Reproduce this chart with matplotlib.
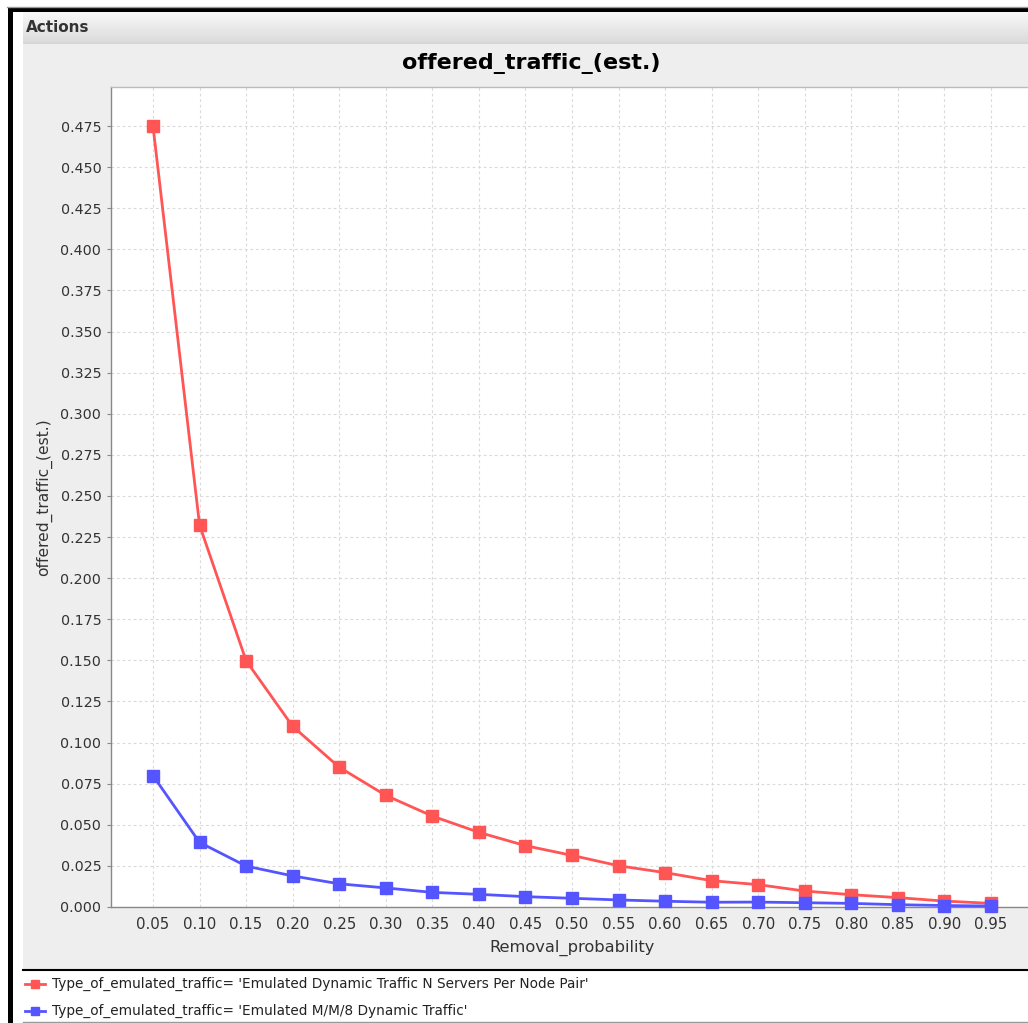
import numpy as np
import matplotlib
matplotlib.use("Agg")
import matplotlib.pyplot as plt
from matplotlib.patches import Rectangle

# ---- data ----
removal_probability = ["0.05", "0.10", "0.15", "0.20", "0.25", "0.30", "0.35", "0.40",
                       "0.45", "0.50", "0.55", "0.60", "0.65", "0.70", "0.75", "0.80",
                       "0.85", "0.90", "0.95"]
n_servers_traffic = [0.475, 0.2323, 0.1498, 0.1099, 0.0850, 0.0679, 0.0553, 0.0454,
                     0.0373, 0.0314, 0.0251, 0.0209, 0.0160, 0.0136, 0.0097, 0.0075,
                     0.0057, 0.0036, 0.0022]
mm8_traffic = [0.0799, 0.0393, 0.0249, 0.0189, 0.0141, 0.0116, 0.0089, 0.0077,
               0.0063, 0.0053, 0.0043, 0.0035, 0.0029, 0.0030, 0.0026, 0.0022,
               0.0014, 0.0009, 0.0006]
y_ticks = [i * 0.025 for i in range(20)]
series_names = ["Type_of_emulated_traffic= 'Emulated Dynamic Traffic N Servers Per Node Pair'",
                "Type_of_emulated_traffic= 'Emulated M/M/8 Dynamic Traffic'"]
series_colors = ["#FF5555", "#5555FF"]

W, H = 1028, 1023
fig = plt.figure(figsize=(W / 100, H / 100), dpi=100)
fig.patch.set_facecolor("white")

# ---- window frame drawn in pixel coordinates ----
frame = fig.add_axes([0, 0, 1, 1], zorder=0)
frame.set_xlim(0, W)
frame.set_ylim(H, 0)
frame.axis("off")

frame.add_patch(Rectangle((0, 0), W, H, color="white", lw=0))
frame.plot([7, W], [6.5, 6.5], color="#9a9a9a", lw=1)
frame.add_patch(Rectangle((8, 8), W - 8, 4, color="black", lw=0))
frame.add_patch(Rectangle((8, 8), 5, H - 8, color="black", lw=0))

# "Actions" header with gradient
grad = np.linspace(0.975, 0.86, 64).reshape(-1, 1)
frame.imshow(grad, extent=(23, W, 42, 12), cmap="gray", vmin=0, vmax=1,
             aspect="auto", interpolation="bilinear", zorder=1)
frame.add_patch(Rectangle((23, 42), W - 23, 2, color="#d6d6d6", lw=0, zorder=2))
frame.text(26, 27, "Actions", fontsize=11, fontweight="bold", color="#333333",
           va="center", ha="left", zorder=3)

# chart panel background
frame.add_patch(Rectangle((23, 44), W - 23, 925, color="#EEEEEE", lw=0, zorder=1))

# legend panel
frame.add_patch(Rectangle((23, 969), W - 23, H - 969, color="white", lw=0, zorder=1))
frame.plot([23, W], [969.5, 969.5], color="black", lw=1.5, zorder=2)
frame.plot([23, W], [1021.5, 1021.5], color="#999999", lw=1, zorder=2)
legend_rows = [984, 1011]
for name, col, yy in zip(series_names, series_colors, legend_rows):
    frame.plot([25, 45], [yy, yy], color=col, lw=2, zorder=3)
    frame.plot([35], [yy], marker="s", ms=6, color=col, zorder=3)
    frame.text(52, yy, name, fontsize=9.8, color="#222222", va="center",
               ha="left", zorder=3)

# title
frame.text(531.5, 64, "offered_traffic_(est.)", fontsize=16, fontweight="bold",
           color="black", ha="center", va="center", zorder=3)

# ---- plot area ----
left_px, right_px, top_px, bottom_px = 111, 1033, 87, 907
ax = fig.add_axes([left_px / W, 1 - bottom_px / H,
                   (right_px - left_px) / W, (bottom_px - top_px) / H], zorder=2)
ax.set_facecolor("white")

x = np.arange(len(removal_probability))
for vals, col in zip([n_servers_traffic, mm8_traffic], series_colors):
    ax.plot(x, vals, color=col, lw=2.0, marker="s", ms=8, mec=col, mfc=col,
            solid_joinstyle="round", zorder=3, clip_on=False)

ax.set_xlim(-0.902, len(x) - 1 + 0.902)
ax.set_ylim(0, 0.49875)
ax.set_xticks(x)
ax.set_xticklabels(removal_probability)
ax.set_yticks(y_ticks)
ax.set_yticklabels([f"{v:.3f}" for v in y_ticks])

ax.grid(True, color="#dadada", linestyle=(0, (2.5, 2.5)), lw=0.8)
ax.set_axisbelow(True)

ax.tick_params(axis="x", length=0, pad=7, labelsize=10.8, labelcolor="#333333")
ax.tick_params(axis="y", length=3, width=0.8, color="#888888", pad=4,
               labelsize=10.3, labelcolor="#333333")

for side in ["left", "bottom"]:
    ax.spines[side].set_color("#888888")
    ax.spines[side].set_linewidth(1.0)
ax.spines["top"].set_color("#bbbbbb")
ax.spines["top"].set_linewidth(1.0)
ax.spines["right"].set_visible(False)

ax.set_xlabel("Removal_probability", fontsize=11.7, color="#333333", labelpad=6)
ax.set_ylabel("offered_traffic_(est.)", fontsize=11.2, color="#333333", labelpad=6)

fig.savefig("out.png", dpi=100)
